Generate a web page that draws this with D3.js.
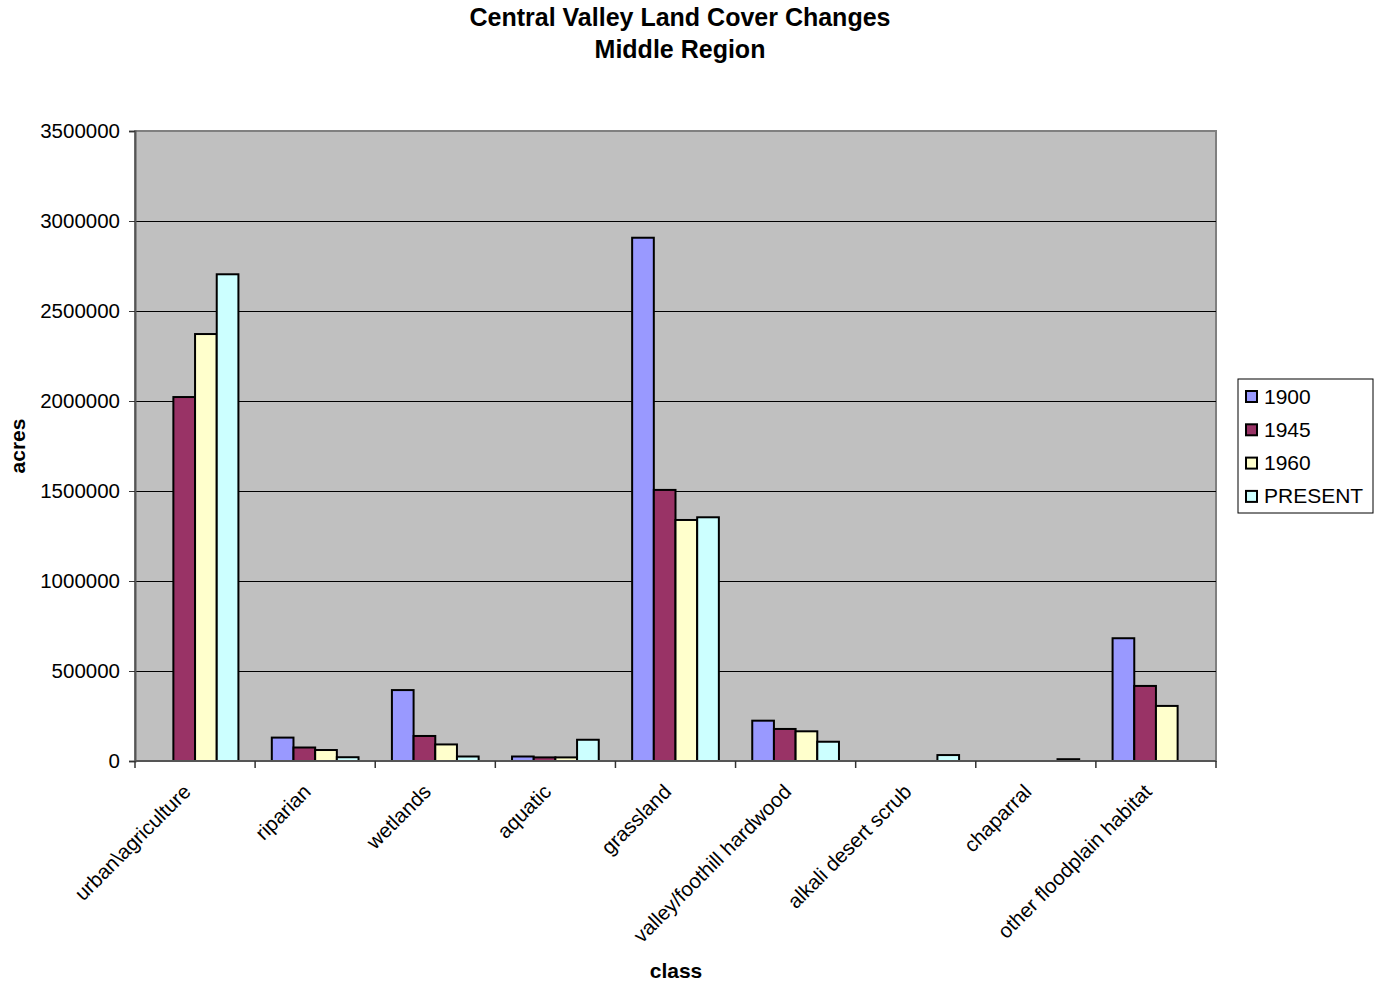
<!DOCTYPE html>
<html>
<head>
<meta charset="utf-8">
<script src="https://cdn.jsdelivr.net/npm/d3@7"></script>
<style>
  body { margin: 0; background: #fff; }
  svg { display: block; font-family: "Liberation Sans", Arial, sans-serif; }
</style>
</head>
<body>
<svg id="chart" width="1377" height="988"></svg>
<script>
// Land cover classes and acreage by survey year
const categories = ["urban\\agriculture", "riparian", "wetlands", "aquatic", "grassland",
  "valley/foothill hardwood", "alkali desert scrub", "chaparral", "other floodplain habitat"];
const seriesNames = ["1900", "1945", "1960", "PRESENT"];
const values1900    = [0, 130000, 394000, 25000, 2907000, 224000, 0, 0, 682000];
const values1945    = [2022000, 75000, 139000, 20000, 1506000, 178000, 0, 0, 417000];
const values1960    = [2372000, 61000, 92000, 20000, 1339000, 165000, 0, 0, 306000];
const valuesPresent = [2704000, 21000, 25000, 118000, 1354000, 107000, 33000, 10000, 0];
const yTicks = [0, 500000, 1000000, 1500000, 2000000, 2500000, 3000000, 3500000];
const colors = ["#9999ff", "#993366", "#ffffcc", "#ccffff"];

const seriesValues = [values1900, values1945, values1960, valuesPresent];

const svg = d3.select("#chart");
const plot = { left: 135, right: 1216, top: 131, bottom: 761 };

const x = d3.scaleBand().domain(categories).range([plot.left, plot.right]).paddingInner(0).paddingOuter(0);
const xInner = d3.scaleBand().domain(seriesNames).range([0, x.bandwidth()]).paddingInner(0).paddingOuter(0.77);
const y = d3.scaleLinear().domain([0, 3500000]).range([plot.bottom, plot.top]);

// Plot background
svg.append("rect")
  .attr("x", plot.left).attr("y", plot.top)
  .attr("width", plot.right - plot.left).attr("height", plot.bottom - plot.top)
  .attr("fill", "#c0c0c0").attr("stroke", "#808080").attr("stroke-width", 2);

// Gridlines
svg.append("g").selectAll("line")
  .data(yTicks.filter(d => d > 0 && d < 3500000))
  .join("line")
  .attr("x1", plot.left).attr("x2", plot.right)
  .attr("y1", d => Math.round(y(d)) + 0.5).attr("y2", d => Math.round(y(d)) + 0.5)
  .attr("stroke", "#000").attr("stroke-width", 1);

// Bars
const groups = svg.append("g").selectAll("g")
  .data(seriesNames.map((name, i) => ({ name, color: colors[i], values: seriesValues[i] })))
  .join("g");

groups.selectAll("rect")
  .data(s => s.values.map((v, j) => ({ v, cat: categories[j], name: s.name, color: s.color })))
  .join("rect")
  .filter(d => d.v > 0)
  .attr("x", d => x(d.cat) + xInner(d.name))
  .attr("y", d => y(d.v))
  .attr("width", xInner.bandwidth())
  .attr("height", d => y(0) - y(d.v))
  .attr("fill", d => d.color)
  .attr("stroke", "#000").attr("stroke-width", 2);

// Y axis
const yAxis = d3.axisLeft(y).tickValues(yTicks).tickSize(6).tickPadding(9).tickFormat(d3.format("d"));
const yg = svg.append("g").attr("transform", `translate(${plot.left},0)`).call(yAxis);
yg.select(".domain").attr("stroke", "#555").attr("stroke-width", 2);
yg.selectAll(".tick line").attr("stroke", "#333");
yg.selectAll(".tick text").attr("font-size", 20.5).attr("fill", "#000")
  .attr("font-family", "Liberation Sans, Arial, sans-serif");

// X axis line with ticks at category boundaries
svg.append("line")
  .attr("x1", plot.left).attr("x2", plot.right)
  .attr("y1", plot.bottom).attr("y2", plot.bottom)
  .attr("stroke", "#555").attr("stroke-width", 2);
const boundaries = categories.map(c => x(c)).concat([plot.right]);
svg.append("g").selectAll("line")
  .data(boundaries)
  .join("line")
  .attr("x1", d => d).attr("x2", d => d)
  .attr("y1", plot.bottom).attr("y2", plot.bottom + 7)
  .attr("stroke", "#333").attr("stroke-width", 1.5);

// Category labels, rotated
svg.append("g").selectAll("text")
  .data(categories)
  .join("text")
  .attr("transform", d => `translate(${x(d) + x.bandwidth() / 2 - 3},${plot.bottom + 32}) rotate(-45)`)
  .attr("text-anchor", "end")
  .attr("font-size", 20.5)
  .attr("fill", "#000")
  .text(d => d);

// Title
const title = svg.append("text").attr("x", 680).attr("text-anchor", "middle")
  .attr("font-size", 25).attr("font-weight", "bold");
title.append("tspan").attr("x", 680).attr("y", 26).text("Central Valley Land Cover Changes");
title.append("tspan").attr("x", 680).attr("y", 58).text("Middle Region");

// Axis titles
svg.append("text")
  .attr("transform", "translate(25,446) rotate(-90)")
  .attr("text-anchor", "middle")
  .attr("font-size", 21).attr("font-weight", "bold")
  .text("acres");
svg.append("text")
  .attr("x", 676).attr("y", 978)
  .attr("text-anchor", "middle")
  .attr("font-size", 21).attr("font-weight", "bold")
  .text("class");

// Legend
const legend = svg.append("g").attr("transform", "translate(1238,379)");
legend.append("rect")
  .attr("width", 135).attr("height", 134)
  .attr("fill", "#fff").attr("stroke", "#000").attr("stroke-width", 1);
const items = legend.selectAll("g")
  .data(seriesNames)
  .join("g")
  .attr("transform", (d, i) => `translate(0,${17 + i * 33.3})`);
items.append("rect")
  .attr("x", 8).attr("y", -5).attr("width", 11).attr("height", 11)
  .attr("fill", (d, i) => colors[i]).attr("stroke", "#000").attr("stroke-width", 2);
items.append("text")
  .attr("x", 26).attr("y", 7.5)
  .attr("font-size", 21)
  .text(d => d);
</script>
</body>
</html>
